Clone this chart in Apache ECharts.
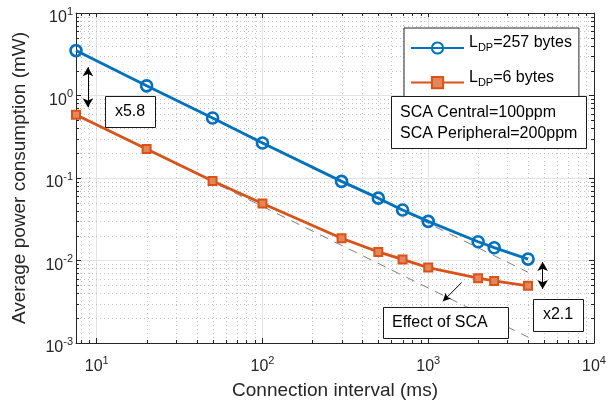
<!DOCTYPE html>
<html>
<head>
<meta charset="utf-8">
<script src="https://cdn.jsdelivr.net/npm/echarts@6/dist/echarts.min.js"></script>
<style>
html, body { margin: 0; padding: 0; background: #fff; }
#chart { width: 609px; height: 405px; }
</style>
</head>
<body>
<div id="chart"></div>
<script>
// values
const connInterval = [7.5, 20, 50, 100, 300, 500, 700, 1000, 2000, 2500, 4000]
const power257 = [3.5, 1.31, 0.533, 0.266, 0.091, 0.057, 0.041, 0.0298, 0.0169, 0.0143, 0.0104]
const power6 = [0.585, 0.225, 0.092, 0.049, 0.0186, 0.0127, 0.0103, 0.0082, 0.0061, 0.00566, 0.00493]

// dashed 1/x guide lines (no SCA), end points
const guideHigh = [[7.5, 3.5], [4000, 0.0072]]
const guideLow = [[7.5, 0.585], [4000, 0.00118]]

// annotation arrows, in data units
const arrowRatioLeft = [[8.85, 2.2], [8.85, 0.72]]
const arrowRatioRight = [[4900, 0.0096], [4900, 0.0045]]
const arrowEffect = [[1590, 0.0054], [1225, 0.0032]]

const xRange = [7.5, 10000]
const yRange = [0.001, 10]
const minorSteps = [2, 3, 4, 5, 6, 7, 8, 9]

const FONT = '"Liberation Sans", Arial, Helvetica, sans-serif'
const INK = '#262626'
const BLUE = '#0072BD'
const ORANGE = '#D95319'

const legendText = {
	'L_DP=257 bytes': '{m|L}{s|DP}{m|=257 bytes}',
	'L_DP=6 bytes': '{m|L}{s|DP}{m|=6 bytes}',
}

// minor tick positions (2..9 in every decade) inside the axis range
function minorValues(range) {
	const out = []
	for (let e = Math.floor(Math.log10(range[0])); e < Math.log10(range[1]); e++) {
		minorSteps.forEach(m => {
			const v = m * Math.pow(10, e)
			if (v > range[0] && v < range[1]) out.push(v)
		})
	}
	return out
}

const tickRich = {
	b: { fontSize: 16, lineHeight: 20, verticalAlign: 'bottom', color: INK, fontFamily: FONT },
	s: { fontSize: 11, lineHeight: 11, verticalAlign: 'top', color: INK, fontFamily: FONT },
}

function decadeLabel(v) {
	const e = Math.round(Math.log10(v))
	if (Math.abs(Math.log10(v) - e) > 1e-6) return ''
	return '{b|10}{s|' + e + '}'
}

const px = v => Math.round(v) + 0.5

function renderMinorX(params, api) {
	const cs = params.coordSys
	const x = px(api.coord([api.value(0), 1])[0])
	const top = cs.y, bottom = cs.y + cs.height
	return {
		type: 'group',
		children: [
			{ type: 'line', shape: { x1: x, y1: top, x2: x, y2: bottom }, style: { stroke: '#c4c4c4', lineWidth: 1, lineDash: [1, 3] } },
			{ type: 'line', shape: { x1: x, y1: bottom, x2: x, y2: bottom - 3 }, style: { stroke: INK, lineWidth: 1 } },
			{ type: 'line', shape: { x1: x, y1: top, x2: x, y2: top + 3 }, style: { stroke: INK, lineWidth: 1 } },
		],
	}
}

function renderMinorY(params, api) {
	const cs = params.coordSys
	const y = px(api.coord([100, api.value(1)])[1])
	const left = cs.x, right = cs.x + cs.width
	return {
		type: 'group',
		children: [
			{ type: 'line', shape: { x1: left, y1: y, x2: right, y2: y }, style: { stroke: '#c4c4c4', lineWidth: 1, lineDash: [1, 3] } },
			{ type: 'line', shape: { x1: left, y1: y, x2: left + 3, y2: y }, style: { stroke: INK, lineWidth: 1 } },
			{ type: 'line', shape: { x1: right, y1: y, x2: right - 3, y2: y }, style: { stroke: INK, lineWidth: 1 } },
		],
	}
}

// white annotation box with a thin dark border; lineYs are text centres relative to the box top
function textBox(x, y, w, h, lines, lineYs, align) {
	const children = [
		{
			type: 'rect',
			z: 100,
			shape: { x: x + 0.5, y: y + 0.5, width: w, height: h },
			style: { fill: '#fff', stroke: '#1a1a1a', lineWidth: 1 },
		},
	]
	lines.forEach((t, i) => {
		children.push({
			type: 'text',
			z: 101,
			style: {
				text: t,
				x: align === 'left' ? x + 9 : x + w / 2,
				y: y + lineYs[i],
				align: align === 'left' ? 'left' : 'center',
				verticalAlign: 'middle',
				font: '16px ' + FONT,
				fill: '#000',
			},
		})
	})
	return { type: 'group', z: 100, children }
}

function arrowPair(pts, both) {
	return [
		{ coord: pts[0], symbol: both ? 'arrow' : 'none', symbolSize: [8, 9] },
		{ coord: pts[1], symbol: 'arrow', symbolSize: both ? [8, 9] : [6, 8] },
	]
}

const chart = echarts.init(document.getElementById('chart'))

const axisLine = { show: true, onZero: false, lineStyle: { color: INK, width: 1 } }

chart.setOption({
	animation: false,
	backgroundColor: '#fff',
	textStyle: { fontFamily: FONT },
	grid: { left: 76, right: 15, top: 13, bottom: 61 },
	legend: {
		orient: 'vertical',
		left: 404,
		top: 28,
		padding: [7, 7, 8, 6],
		itemGap: 15,
		itemWidth: 53,
		itemHeight: 14,
		backgroundColor: '#fff',
		borderColor: INK,
		borderWidth: 1,
		borderRadius: 0,
		data: ['L_DP=257 bytes', 'L_DP=6 bytes'],
		formatter: name => legendText[name],
		textStyle: {
			rich: {
				m: { fontSize: 16, lineHeight: 16, verticalAlign: 'top', color: '#000', fontFamily: FONT },
				s: { fontSize: 11, lineHeight: 26, color: '#000', fontFamily: FONT },
			},
		},
		z: 50,
	},
	xAxis: [
		{
			type: 'log',
			logBase: 10,
			min: xRange[0],
			max: xRange[1],
			name: 'Connection interval (ms)',
			nameLocation: 'middle',
			nameGap: 38,
			nameTextStyle: { fontSize: 19, color: INK, fontFamily: FONT },
			axisLine,
			axisTick: { show: true, inside: true, length: 5, lineStyle: { color: INK } },
			axisLabel: { margin: 12, formatter: decadeLabel, rich: tickRich, hideOverlap: false, showMinLabel: false },
			splitLine: { show: true, lineStyle: { color: '#e3e3e3', width: 1 } },
		},
		{
			type: 'log',
			logBase: 10,
			min: xRange[0],
			max: xRange[1],
			position: 'top',
			axisLine,
			axisTick: { show: true, inside: true, length: 5, lineStyle: { color: INK } },
			axisLabel: { show: false },
			splitLine: { show: false },
		},
	],
	yAxis: [
		{
			type: 'log',
			logBase: 10,
			min: yRange[0],
			max: yRange[1],
			name: 'Average power consumption (mW)',
			nameLocation: 'middle',
			nameGap: 47,
			nameTextStyle: { fontSize: 19, color: INK, fontFamily: FONT },
			axisLine,
			axisTick: { show: true, inside: true, length: 5, lineStyle: { color: INK } },
			axisLabel: { margin: 3, formatter: decadeLabel, rich: tickRich, padding: [6, 0, 0, 0] },
			splitLine: { show: true, lineStyle: { color: '#e3e3e3', width: 1 } },
		},
		{
			type: 'log',
			logBase: 10,
			min: yRange[0],
			max: yRange[1],
			position: 'right',
			axisLine,
			axisTick: { show: true, inside: true, length: 5, lineStyle: { color: INK } },
			axisLabel: { show: false },
			splitLine: { show: false },
		},
	],
	series: [
		{
			type: 'custom',
			silent: true,
			z: 1,
			renderItem: renderMinorX,
			data: minorValues(xRange).map(v => [v, 1]),
		},
		{
			type: 'custom',
			silent: true,
			z: 1,
			renderItem: renderMinorY,
			data: minorValues(yRange).map(v => [100, v]),
		},
		{
			name: 'guide-high',
			type: 'line',
			silent: true,
			z: 2,
			symbol: 'none',
			data: guideHigh,
			lineStyle: { color: '#7f7f7f', width: 1, type: [9, 7] },
			markLine: {
				silent: true,
				label: { show: false },
				lineStyle: { color: '#000', width: 1, type: 'solid' },
				data: [
					arrowPair(arrowRatioLeft, true),
					arrowPair(arrowRatioRight, true),
					arrowPair(arrowEffect, false),
				],
			},
		},
		{
			name: 'guide-low',
			type: 'line',
			silent: true,
			z: 2,
			symbol: 'none',
			data: guideLow,
			lineStyle: { color: '#7f7f7f', width: 1, type: [9, 7] },
		},
		{
			name: 'L_DP=257 bytes',
			type: 'line',
			z: 3,
			clip: false,
			data: connInterval.map((x, i) => [x, power257[i]]),
			symbol: 'circle',
			symbolSize: 11,
			lineStyle: { color: BLUE, width: 2.8 },
			itemStyle: { color: 'rgba(0,0,0,0)', borderColor: BLUE, borderWidth: 2.6 },
		},
		{
			name: 'L_DP=6 bytes',
			type: 'line',
			z: 3,
			clip: false,
			data: connInterval.map((x, i) => [x, power6[i]]),
			symbol: 'rect',
			symbolSize: 8,
			lineStyle: { color: ORANGE, width: 2.8 },
			itemStyle: { color: '#E5855A', borderColor: ORANGE, borderWidth: 2 },
		},
	],
	graphic: [
		textBox(105, 96, 50, 31, ['x5.8'], [16], 'center'),
		textBox(533, 299, 50, 32, ['x2.1'], [16], 'center'),
		textBox(383, 307, 125, 31, ['Effect of SCA'], [16], 'left'),
		textBox(391, 96, 195, 52, ['SCA Central=100ppm', 'SCA Peripheral=200ppm'], [17, 38], 'left'),
	],
})
</script>
</body>
</html>
